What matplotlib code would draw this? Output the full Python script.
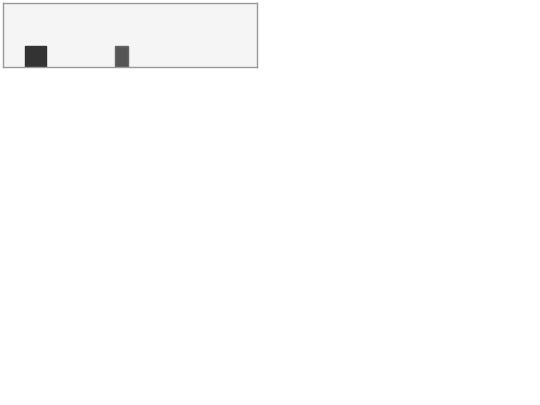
import matplotlib
matplotlib.use('Agg')
import matplotlib.pyplot as plt

# two bars of equal height, one dark and wide, one gray and narrow
names = ['a', 'b']
values = [1.0, 1.0]

xpos = [32.5, 118.5]
widths = [21, 13]
colors = ['#333333', '#555555']
edges = ['#333333', '#666666']

fig = plt.figure(figsize=(5.4, 4.05), dpi=100)
fig.patch.set_facecolor('white')
ax = fig.add_axes([3/540, 1 - 67/405, 254/540, 64/405])
ax.set_facecolor('#f5f5f5')

ax.bar(xpos, values, width=widths, color=colors, edgecolor=edges, linewidth=1)

ax.set_xlim(0, 254)
ax.set_ylim(0, 64/21)
ax.set_xticks([])
ax.set_yticks([])
for s in ax.spines.values():
    s.set_color('#999999')
    s.set_linewidth(1)

fig.savefig('out.png', dpi=100)
